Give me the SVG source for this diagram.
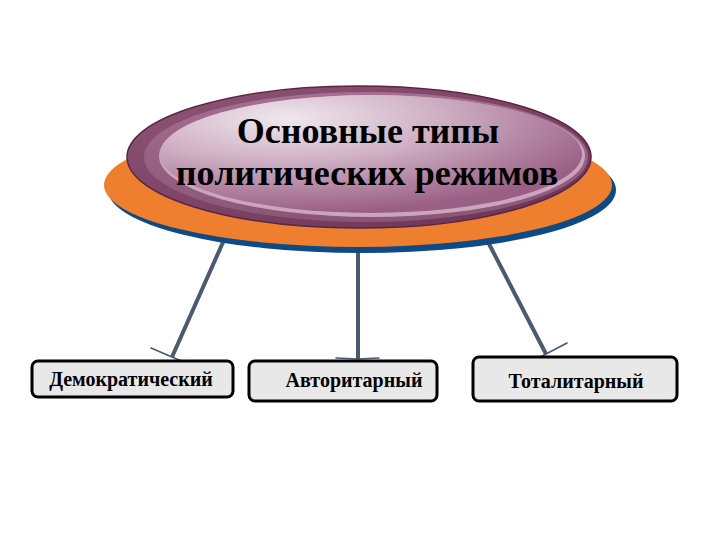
<svg xmlns="http://www.w3.org/2000/svg" width="720" height="540" viewBox="0 0 720 540">
<defs>
<style>
.conn{stroke:#4b5a6e;stroke-width:4;fill:none}
.wing{stroke:#4b5a6e;stroke-width:1.6;fill:none;stroke-linecap:round}
.box{fill:#e8e8e8;stroke:#000;stroke-width:3}
.lbl{font-family:"Liberation Serif","Times New Roman",serif;font-weight:bold;font-size:20px;fill:#000;text-anchor:middle}
.title{font-family:"Liberation Serif","Times New Roman",serif;font-weight:bold;font-size:36px;fill:#000;text-anchor:middle}
</style>
<linearGradient id="rim" x1="0" y1="0" x2="1" y2="1">
<stop offset="0" stop-color="#8e5577"/>
<stop offset="1" stop-color="#6a3253"/>
</linearGradient>
<linearGradient id="mid" x1="0" y1="0" x2="0" y2="1">
<stop offset="0" stop-color="#a46f91"/>
<stop offset="1" stop-color="#8a5577"/>
</linearGradient>
<radialGradient id="hi" cx="0.3" cy="0.2" r="0.8">
<stop offset="0" stop-color="#f0e8ee"/>
<stop offset="0.45" stop-color="#cfb0c4"/>
<stop offset="1" stop-color="#9a5f85"/>
</radialGradient>
</defs>
<rect width="720" height="540" fill="#fff"/>
<g id="connectors">
<line class="conn" x1="224" y1="240" x2="172" y2="357"/>
<polyline class="wing" points="151,348 172,357 193,366"/>
<line class="conn" x1="358" y1="240" x2="358" y2="359"/>
<polyline class="wing" points="336,358 358,359 379,358"/>
<line class="conn" x1="487" y1="240" x2="546" y2="354"/>
<polyline class="wing" points="567,343 546,354 525,365"/>
</g>
<g id="header">
<ellipse cx="362" cy="190" rx="254" ry="63" fill="#0e4a86"/>
<ellipse cx="358" cy="185" rx="254" ry="62" fill="#ee7f2e"/>
<ellipse cx="359" cy="157" rx="232" ry="71" fill="url(#rim)" stroke="#5a2644" stroke-width="1.5"/>
<ellipse cx="366" cy="157" rx="222" ry="65" fill="url(#mid)"/>
<ellipse cx="372" cy="156" rx="213" ry="61" fill="#caa5bd"/>
<ellipse cx="371" cy="154" rx="211" ry="59" fill="url(#hi)"/>
<text class="title" x="368" y="143">Основные типы</text>
<text class="title" x="367" y="185">политических режимов</text>
</g>
<g id="node-democratic">
<rect class="box" x="32" y="361" width="201" height="36" rx="6"/>
<text class="lbl" x="131" y="386">Демократический</text>
</g>
<g id="node-authoritarian">
<rect class="box" x="249" y="361" width="188" height="40" rx="6"/>
<text class="lbl" x="354" y="387">Авторитарный</text>
</g>
<g id="node-totalitarian">
<rect class="box" x="473" y="357" width="204" height="44" rx="6"/>
<text class="lbl" x="576" y="388">Тоталитарный</text>
</g>
</svg>
